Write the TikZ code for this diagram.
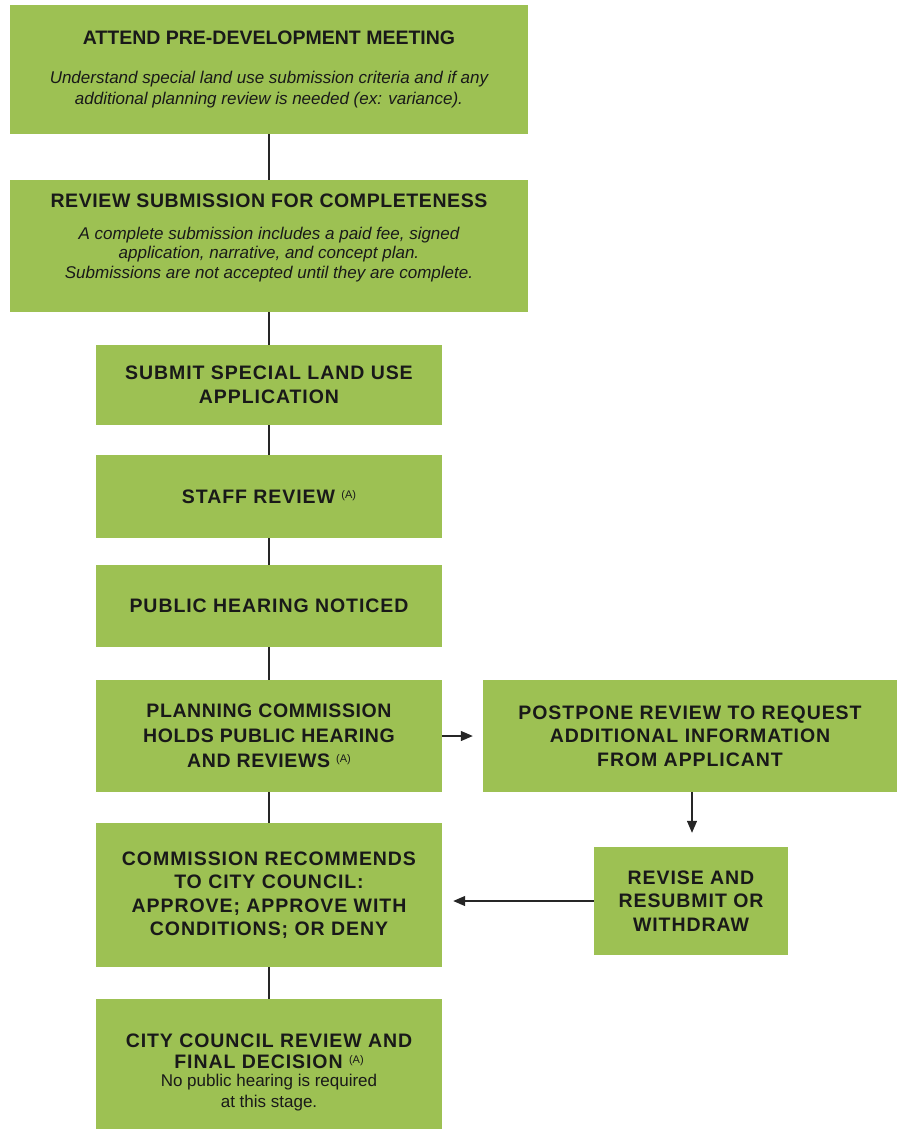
\documentclass[tikz,border=0pt]{standalone}
\usepackage{fontspec}
\setmainfont{Liberation Sans}
\newfontfamily\trkfont[LetterSpace=4.8]{Liberation Sans}
\newfontfamily\trkfontb[LetterSpace=3]{Liberation Sans}
\usetikzlibrary{arrows.meta}
\definecolor{boxgreen}{RGB}{157,193,83}
\definecolor{txt}{RGB}{25,25,25}
\newcommand{\ttlfont}{\trkfont\fontsize{19.5bp}{23.5bp}\selectfont\bfseries}
\newcommand{\ttlfontplain}{\normalfont\fontsize{19.5bp}{23.5bp}\selectfont\bfseries}
\newcommand{\ttlfontmid}{\trkfontb\fontsize{19.5bp}{23.5bp}\selectfont\bfseries}
\newcommand{\itfont}{\normalfont\fontsize{17bp}{20bp}\selectfont\itshape}
\newcommand{\rmfontsm}{\normalfont\fontsize{17bp}{20bp}\selectfont}
\newcommand{\supA}{\raisebox{5bp}{\normalfont\fontsize{11bp}{11bp}\selectfont (A)}}
\begin{document}
\begin{tikzpicture}[x=1bp,y=-1bp,
  box/.style={fill=boxgreen, draw=none, inner sep=0pt, align=center, text=txt, font=\ttlfont},
  conn/.style={draw=black!85, line width=1.2bp},
  arr/.style={conn, -{Triangle[length=12bp,width=10bp]}}]
\useasboundingbox (0,0) rectangle (897,1129);

\node[box, font=\ttlfontplain, minimum width=518bp, minimum height=129bp] (b1) at (269,69.5)
  {ATTEND PRE-DEVELOPMENT MEETING\\[15.5bp]
   {\itfont Understand special land use submission criteria and if any}\\[-3bp]
   {\itfont additional planning review is needed (ex: variance).}};
\node[box, font=\ttlfontmid, minimum width=518bp, minimum height=132bp, text depth=20bp] (b2) at (269,246)
  {REVIEW SUBMISSION FOR COMPLETENESS\\[8.5bp]
   {\itfont A complete submission includes a paid fee, signed}\\[-4bp]
   {\itfont application, narrative, and concept plan.}\\[-4bp]
   {\itfont Submissions are not accepted until they are complete.}};
\node[box, minimum width=346bp, minimum height=80bp] (b3) at (269,385)
  {SUBMIT SPECIAL LAND USE\\APPLICATION};
\node[box, minimum width=346bp, minimum height=83bp] (b4) at (269,496.5)
  {STAFF REVIEW \supA};
\node[box, minimum width=346bp, minimum height=82bp] (b5) at (269,606)
  {PUBLIC HEARING NOTICED};
\node[box, font=\ttlfontmid, minimum width=346bp, minimum height=112bp] (b6) at (269,736)
  {PLANNING COMMISSION\\[1.5bp]HOLDS PUBLIC HEARING\\[1.5bp]AND REVIEWS \supA};
\node[box, minimum width=346bp, minimum height=144bp] (b7) at (269,895)
  {COMMISSION RECOMMENDS\\TO CITY COUNCIL:\\APPROVE; APPROVE WITH\\CONDITIONS; OR DENY};
\node[box, minimum width=346bp, minimum height=130bp, text height=89.6bp] (b8) at (269,1064)
  {CITY COUNCIL REVIEW AND\\[-2.5bp]FINAL DECISION \supA\\[-5.5bp]
   {\rmfontsm No public hearing is required}\\[-2.5bp]
   {\rmfontsm at this stage.}};
\node[box, minimum width=414bp, minimum height=112bp] (p) at (690,736)
  {POSTPONE REVIEW TO REQUEST\\ADDITIONAL INFORMATION\\FROM APPLICANT};
\node[box, minimum width=194bp, minimum height=108bp] (r) at (691,901)
  {REVISE AND\\RESUBMIT OR\\WITHDRAW};

\draw[conn] (b1.south) -- (b2.north);
\draw[conn] (b2.south) -- (b3.north);
\draw[conn] (b3.south) -- (b4.north);
\draw[conn] (b4.south) -- (b5.north);
\draw[conn] (b5.south) -- (b6.north);
\draw[conn] (b6.south) -- (b7.north);
\draw[conn] (b7.south) -- (b8.north);
\draw[arr, shorten >=10bp] (b6.east) -- (p.west);
\draw[arr, shorten >=14bp] (p.south -| 692,0) -- (r.north -| 692,0);
\draw[arr, shorten >=11bp] (r.west) -- (r.west -| b7.east);
\end{tikzpicture}
\end{document}
